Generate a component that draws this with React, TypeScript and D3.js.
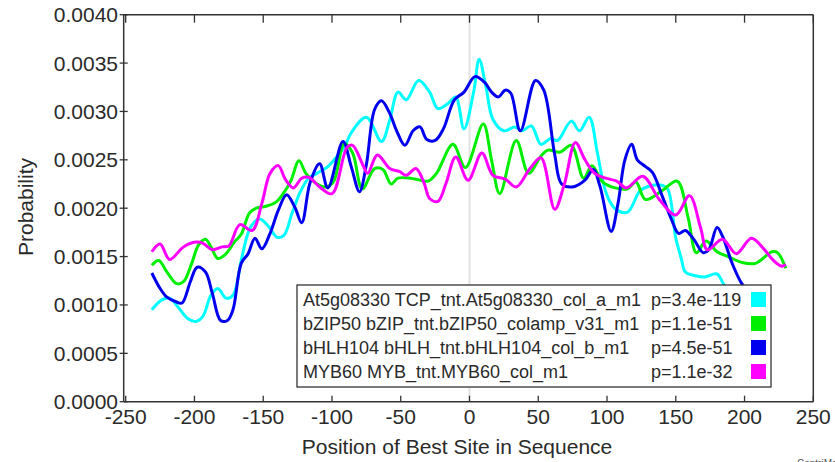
import React, { useEffect, useRef } from "react";
import * as d3 from "d3";

// [position, probability]
const tcpSeries: [number, number][] = [
  [-231, 0.00095], [-224, 0.00105], [-218, 0.00107], [-212, 0.00098], [-205, 0.00086], [-199, 0.00083],
  [-194, 0.00088], [-188, 0.0011], [-183, 0.00117], [-177, 0.00107], [-172, 0.0011], [-166, 0.00146],
  [-162, 0.0017], [-159, 0.00181], [-153, 0.00189], [-146, 0.00181], [-140, 0.0017], [-135, 0.00172],
  [-129, 0.00195], [-123, 0.00217], [-117, 0.00231], [-111, 0.00236], [-103, 0.00243], [-96, 0.00254],
  [-91, 0.00263], [-86, 0.00278], [-75, 0.00294], [-64, 0.00269], [-58, 0.00291], [-52, 0.0032],
  [-46, 0.00312], [-37, 0.00332], [-29, 0.0032], [-23, 0.00303], [-15, 0.00309], [-10, 0.00315],
  [-4, 0.00282], [3, 0.0032], [7, 0.00354], [12, 0.00325], [17, 0.00292], [25, 0.0028], [33, 0.00284],
  [38, 0.0028], [45, 0.00285], [52, 0.00266], [59, 0.00272], [64, 0.0027], [74, 0.0029], [80, 0.0028],
  [87, 0.00294], [93, 0.00257], [98, 0.00222], [102, 0.00207], [107, 0.00198], [115, 0.00196],
  [124, 0.00218], [131, 0.00223], [139, 0.00224], [144, 0.0022], [150, 0.00169], [154, 0.00148],
  [157, 0.00134], [165, 0.0013], [171, 0.00129], [180, 0.00132], [185, 0.00121], [192, 0.0011],
  [200, 0.00104], [210, 0.00098],
];

const bzipSeries: [number, number][] = [
  [-231, 0.00141], [-226, 0.00146], [-220, 0.00134], [-213, 0.00122], [-208, 0.00124], [-202, 0.00143],
  [-197, 0.00162], [-192, 0.00168], [-188, 0.0016], [-183, 0.00148], [-177, 0.00153], [-171, 0.00165],
  [-166, 0.00173], [-160, 0.00195], [-155, 0.002], [-148, 0.00202], [-141, 0.00206], [-136, 0.00214],
  [-130, 0.00228], [-124, 0.00249], [-119, 0.00236], [-112, 0.00226], [-105, 0.00222], [-99, 0.00227],
  [-91, 0.00267], [-85, 0.00257], [-78, 0.0022], [-69, 0.00241], [-63, 0.0024], [-57, 0.00225],
  [-52, 0.00231], [-43, 0.00231], [-36, 0.00229], [-30, 0.00228], [-24, 0.00236], [-12, 0.00266],
  [-3, 0.00242], [10, 0.00287], [16, 0.0025], [22, 0.00215], [34, 0.0027], [43, 0.00236], [52, 0.00254],
  [57, 0.0026], [66, 0.00258], [74, 0.00265], [83, 0.00231], [89, 0.00244], [97, 0.00227],
  [106, 0.00221], [115, 0.0022], [121, 0.00227], [128, 0.00209], [140, 0.00218], [151, 0.00228],
  [159, 0.0019], [165, 0.00154], [172, 0.00166], [180, 0.00155], [188, 0.0015], [198, 0.00144],
  [208, 0.00143], [220, 0.00155], [224, 0.00154], [230, 0.00138],
];

const bhlhSeries: [number, number][] = [
  [-231, 0.00133], [-225, 0.00117], [-220, 0.00108], [-213, 0.00103], [-209, 0.00102], [-203, 0.00124],
  [-198, 0.00139], [-192, 0.00134], [-187, 0.00112], [-181, 0.00084], [-176, 0.00084], [-172, 0.00095],
  [-166, 0.00143], [-161, 0.00153], [-156, 0.00169], [-151, 0.00158], [-145, 0.00174], [-139, 0.00198],
  [-133, 0.00214], [-127, 0.00201], [-122, 0.00185], [-116, 0.00226], [-109, 0.00246], [-103, 0.00221],
  [-92, 0.00269], [-86, 0.00243], [-80, 0.00217], [-75, 0.00245], [-69, 0.00302], [-64, 0.00311],
  [-58, 0.00298], [-53, 0.0028], [-47, 0.00265], [-41, 0.0028], [-36, 0.00284], [-31, 0.00271],
  [-25, 0.0027], [-19, 0.00282], [-11, 0.00312], [-4, 0.0032], [4, 0.00336], [11, 0.0033], [16, 0.0032],
  [21, 0.00315], [26, 0.00322], [30, 0.00319], [37, 0.0028], [48, 0.00332], [54, 0.00322], [62, 0.00255],
  [67, 0.00225], [75, 0.00222], [84, 0.00229], [90, 0.0024], [95, 0.00222], [103, 0.00176],
  [108, 0.00205], [113, 0.0025], [118, 0.00266], [122, 0.0025], [128, 0.00243], [133, 0.00237],
  [140, 0.00213], [147, 0.00188], [152, 0.00174], [157, 0.00177], [163, 0.00168], [170, 0.00154],
  [174, 0.00157], [180, 0.0018], [184, 0.00171], [191, 0.00143], [198, 0.00122], [205, 0.0011],
  [212, 0.001],
];

const mybSeries: [number, number][] = [
  [-231, 0.00155], [-225, 0.00163], [-218, 0.00147], [-208, 0.0016], [-199, 0.00165], [-194, 0.00164],
  [-187, 0.00157], [-180, 0.0016], [-175, 0.00161], [-167, 0.00183], [-158, 0.00177], [-151, 0.00205],
  [-145, 0.00236], [-139, 0.00244], [-134, 0.0023], [-128, 0.00221], [-122, 0.00231], [-117, 0.00232],
  [-109, 0.00222], [-100, 0.00215], [-89, 0.00263], [-85, 0.00265], [-77, 0.00243], [-74, 0.00236],
  [-67, 0.00255], [-58, 0.00241], [-51, 0.00238], [-46, 0.00234], [-39, 0.00241], [-33, 0.00226],
  [-29, 0.0021], [-23, 0.00207], [-17, 0.00226], [-10, 0.00253], [-1, 0.00229], [9, 0.00257],
  [17, 0.00234], [26, 0.0023], [34, 0.00222], [44, 0.00241], [52, 0.00252], [62, 0.00199], [69, 0.00225],
  [77, 0.00268], [84, 0.0025], [91, 0.00236], [99, 0.00231], [107, 0.00228], [114, 0.00221],
  [126, 0.00233], [138, 0.00209], [150, 0.00193], [160, 0.00213], [168, 0.0018], [173, 0.00157],
  [184, 0.00168], [194, 0.00153], [205, 0.00169], [214, 0.00158], [221, 0.00146], [227, 0.0014],
  [230, 0.00142],
];

const legendNames = [
  "At5g08330 TCP_tnt.At5g08330_col_a_m1",
  "bZIP50 bZIP_tnt.bZIP50_colamp_v31_m1",
  "bHLH104 bHLH_tnt.bHLH104_col_b_m1",
  "MYB60 MYB_tnt.MYB60_col_m1",
];
const legendPValues = ["p=3.4e-119", "p=1.1e-51", "p=4.5e-51", "p=1.1e-32"];
const xTicks = [-250, -200, -150, -100, -50, 0, 50, 100, 150, 200, 250];
const yTicks = [0, 0.0005, 0.001, 0.0015, 0.002, 0.0025, 0.003, 0.0035, 0.004];

const colors = ["#00ffff", "#00ee00", "#0000ee", "#ff00ff"];
const FONT = "'Liberation Sans', Arial, sans-serif";
const INK = "#2a2a2a";

const App = () => {
  const ref = useRef<SVGSVGElement>(null);

  useEffect(() => {
    const width = 835;
    const height = 462;
    const svg = d3.select(ref.current);
    svg.selectAll("*").remove();

    const x = d3.scaleLinear().domain([-250, 250]).range([125.7, 813.3]);
    const y = d3.scaleLinear().domain([0, 0.004]).range([401.7, 14.7]);
    const left = 123.7;
    const right = x(250);
    const top = y(0.004);
    const bottom = y(0);

    svg.append("rect").attr("width", width).attr("height", height).attr("fill", "#fff");

    // light guide at zero
    svg.append("line")
      .attr("x1", x(0)).attr("x2", x(0))
      .attr("y1", top).attr("y2", bottom)
      .attr("stroke", "#e2e2e2").attr("stroke-width", 2);

    const line = d3.line<[number, number]>()
      .x(d => x(d[0]))
      .y(d => y(d[1]))
      .curve(d3.curveCatmullRom.alpha(0.5));

    [tcpSeries, bzipSeries, bhlhSeries, mybSeries].forEach((s, i) => {
      svg.append("path")
        .datum(s)
        .attr("d", line)
        .attr("fill", "none")
        .attr("stroke", colors[i])
        .attr("stroke-width", 3)
        .attr("stroke-linejoin", "round");
    });

    // frame
    const frame = svg.append("g").attr("stroke", "#333").attr("stroke-width", 1.5);
    frame.append("line").attr("x1", left).attr("x2", right).attr("y1", top).attr("y2", top);
    frame.append("line").attr("x1", left).attr("x2", right).attr("y1", bottom).attr("y2", bottom);
    frame.append("line").attr("x1", left).attr("x2", left).attr("y1", top).attr("y2", bottom);
    frame.append("line").attr("x1", right).attr("x2", right).attr("y1", top).attr("y2", bottom);

    const tickG = svg.append("g").attr("stroke", "#333").attr("stroke-width", 1.3);
    xTicks.forEach(t => {
      tickG.append("line").attr("x1", x(t)).attr("x2", x(t)).attr("y1", bottom).attr("y2", bottom - 6);
      tickG.append("line").attr("x1", x(t)).attr("x2", x(t)).attr("y1", top).attr("y2", top + 8);
    });
    yTicks.forEach(t => {
      tickG.append("line").attr("x1", left - 4).attr("x2", left + 4).attr("y1", y(t)).attr("y2", y(t));
    });

    svg.append("g")
      .selectAll("text")
      .data(xTicks)
      .enter().append("text")
      .attr("x", d => x(d))
      .attr("y", 424)
      .attr("text-anchor", "middle")
      .attr("font-family", FONT)
      .attr("font-size", 21)
      .attr("fill", INK)
      .text(d => String(d));

    svg.append("g")
      .selectAll("text")
      .data(yTicks)
      .enter().append("text")
      .attr("x", 118)
      .attr("y", d => y(d) + 7.5)
      .attr("text-anchor", "end")
      .attr("font-family", FONT)
      .attr("font-size", 21)
      .attr("fill", INK)
      .text(d => d.toFixed(4));

    svg.append("text")
      .attr("x", 457)
      .attr("y", 454)
      .attr("text-anchor", "middle")
      .attr("font-family", FONT)
      .attr("font-size", 21)
      .attr("fill", INK)
      .text("Position of Best Site in Sequence");

    svg.append("text")
      .attr("transform", "translate(33,207) rotate(-90)")
      .attr("text-anchor", "middle")
      .attr("font-family", FONT)
      .attr("font-size", 21)
      .attr("fill", INK)
      .text("Probability");

    // legend
    const lg = svg.append("g");
    lg.append("rect")
      .attr("x", 297).attr("y", 285).attr("width", 474).attr("height", 102)
      .attr("fill", "#fff").attr("stroke", "#333").attr("stroke-width", 1.3);
    legendNames.forEach((name, i) => {
      const by = 306 + i * 24;
      lg.append("text").attr("x", 303).attr("y", by)
        .attr("font-family", FONT).attr("font-size", 18).attr("fill", INK).text(name);
      lg.append("text").attr("x", 651).attr("y", by)
        .attr("font-family", FONT).attr("font-size", 18).attr("fill", INK).text(legendPValues[i]);
      lg.append("rect").attr("x", 751).attr("y", by - 14).attr("width", 15).attr("height", 15)
        .attr("fill", colors[i]);
    });

    svg.append("text")
      .attr("x", 797).attr("y", 467)
      .attr("font-family", FONT).attr("font-size", 10).attr("fill", "#555")
      .text("CentriMo");
  }, []);

  return (
    <svg
      ref={ref}
      width={835}
      height={462}
      style={{ position: "absolute", left: 0, top: 0, display: "block" }}
    ></svg>
  );
};

export default App;
